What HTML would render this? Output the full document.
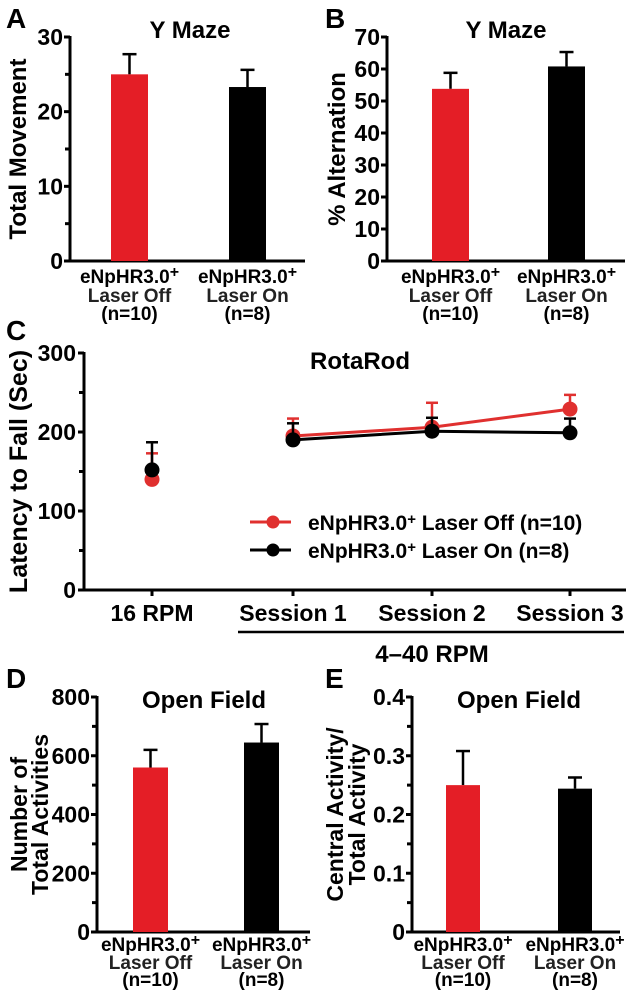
<!DOCTYPE html>
<html><head><meta charset="utf-8"><style>
html,body{margin:0;padding:0;background:#fff;width:633px;height:994px;overflow:hidden}
svg{display:block;font-family:"Liberation Sans",Arial,sans-serif;font-weight:bold}
</style></head><body>
<svg id="fig" width="633" height="994" viewBox="0 0 633 994"></svg>
<script>
// Panel A data
const aCats = ["Laser Off", "Laser On"];
const aNs = ["(n=10)", "(n=8)"];
const aVals = [25, 23.3];
const aErrs = [2.7, 2.3];
const aTicks = [0, 10, 20, 30];
// Panel B data
const bVals = [53.8, 60.8];
const bErrs = [5.0, 4.5];
const bTicks = [0, 10, 20, 30, 40, 50, 60, 70];
// Panel C data
const cCats = ["16 RPM", "Session 1", "Session 2", "Session 3"];
const cOffVals = [140, 195, 206, 229];
const cOffErrs = [33, 22, 31, 18];
const cOnVals = [152, 190, 201, 199];
const cOnErrs = [35, 21, 17, 18];
const cTicks = [0, 100, 200, 300];
// Panel D data
const dVals = [560, 645];
const dErrs = [60, 63];
const dTicks = [0, 200, 400, 600, 800];
// Panel E data
const eVals = [0.25, 0.244];
const eErrs = [0.058, 0.019];
const eTicks = [0, 0.1, 0.2, 0.3, 0.4];

const NS = "http://www.w3.org/2000/svg";
const svg = document.getElementById("fig");
function mk(tag, attrs, parent, text) {
  const e = document.createElementNS(NS, tag);
  for (const k in attrs) e.setAttribute(k, attrs[k]);
  if (text !== undefined) e.textContent = text;
  (parent || svg).appendChild(e);
  return e;
}
const RED = "#e41e26";

function barPanel(o) {
  const g = mk("g", {});
  
  
  const y = v => o.y0 - (v - o.min) / (o.max - o.min) * (o.y0 - o.y1);
  const L = mk("text", {x: o.letterX, y: o.letterY, "font-size": 28}, g, o.letter);
  
  
  const T = mk("text", {x: o.titleX, y: o.titleY, "font-size": 24, "text-anchor": "middle"}, g, o.title);
  
  
  const ya = mk("line", {x1: o.ax, x2: o.ax, y1: o.y1 - 1, y2: o.y0 + 1, stroke: "#000", "stroke-width": 3}, g);
  
  
  const xa = mk("line", {x1: o.ax - 1, x2: o.axEnd, y1: o.y0, y2: o.y0, stroke: "#000", "stroke-width": 3}, g);
  
  
  for (let i = 0; i < o.ticks.length; i++) {
    const v = o.ticks[i];
    mk("line", {x1: o.ax - 6, x2: o.ax, y1: y(v), y2: y(v), stroke: "#000", "stroke-width": 3}, g);
    const t = mk("text", {x: o.ax - 7, y: y(v) + 8, "font-size": 23, "text-anchor": "end"}, g, String(v));
    
    
    if (o.minor && i < o.ticks.length - 1) {
      const m = (o.ticks[i] + o.ticks[i + 1]) / 2;
      mk("line", {x1: o.ax - 5, x2: o.ax, y1: y(m), y2: y(m), stroke: "#000", "stroke-width": 3}, g);
    }
  }
  o.ytitle.forEach((s, i) => {
    const bx = o.ytitleX[i];
    const yt = mk("text", {x: 0, y: 0, "font-size": o.ytSize || 24, "text-anchor": "middle",
      transform: `translate(${bx},${(o.y0 + o.y1) / 2}) rotate(-90)`}, g, s);
    
    
  });
  o.vals.forEach((v, i) => {
    const bx = o.barX[i];
    const col = i === 0 ? RED : "#000";
    const top = y(v + o.errs[i]);
    mk("line", {x1: bx + o.bw / 2, x2: bx + o.bw / 2, y1: top, y2: y(v), stroke: "#000", "stroke-width": 2.5}, g);
    mk("line", {x1: bx + o.bw / 2 - 7, x2: bx + o.bw / 2 + 7, y1: top, y2: top, stroke: "#000", "stroke-width": 2.5}, g);
    const r = mk("rect", {x: bx, y: y(v), width: o.bw, height: o.y0 - y(v), fill: col}, g);
    
    
    const cx = bx + o.bw / 2;
    const t1 = mk("text", {x: cx, y: o.y0 + o.lb[0], "font-size": 19, "text-anchor": "middle"}, g);
    
    
    t1.appendChild(document.createTextNode("eNpHR3.0"));
    mk("tspan", {dy: -6, "font-size": 16}, t1, "+");
    mk("text", {x: cx, y: o.y0 + o.lb[1], "font-size": 19, "text-anchor": "middle", fill: "#222"}, g, aCats[i]);
    mk("text", {x: cx, y: o.y0 + o.lb[2], "font-size": 19, "text-anchor": "middle"}, g, aNs[i]);
  });
}

barPanel({name: "panel-a-ymaze-movement", letter: "A", letterX: 6, letterY: 28, title: "Y Maze", titleX: 190, titleY: 38,
  ax: 70, axEnd: 305, y0: 261, y1: 37, min: 0, max: 30, ticks: aTicks, minor: true,
  ytitle: ["Total Movement"], ytitleX: [26], vals: aVals, errs: aErrs, barX: [111, 229], bw: 37, lb: [22, 41, 59]});
barPanel({name: "panel-b-ymaze-alternation", letter: "B", letterX: 325, letterY: 28, title: "Y Maze", titleX: 506, titleY: 38,
  ax: 387, axEnd: 625, y0: 261, y1: 37, min: 0, max: 70, ticks: bTicks, minor: false,
  ytitle: ["% Alternation"], ytitleX: [345], vals: bVals, errs: bErrs, barX: [432, 548], bw: 37, lb: [22, 41, 59]});
barPanel({name: "panel-d-openfield-total", letter: "D", letterX: 6, letterY: 688, title: "Open Field", titleX: 204, titleY: 708,
  ax: 97, axEnd: 310, y0: 932, y1: 697, min: 0, max: 800, ticks: dTicks, minor: true, ytSize: 23,
  ytitle: ["Number of", "Total Activities"], ytitleX: [27, 48], vals: dVals, errs: dErrs, barX: [133, 244], bw: 35, lb: [19, 37, 54]});
barPanel({name: "panel-e-openfield-central", letter: "E", letterX: 325, letterY: 688, title: "Open Field", titleX: 519, titleY: 708,
  ax: 412, axEnd: 620, y0: 932, y1: 697, min: 0, max: 0.4, ticks: eTicks, minor: true, ytSize: 23,
  ytitle: ["Central Activity/", "Total Activity"], ytitleX: [343, 365], vals: eVals, errs: eErrs, barX: [446, 558], bw: 34, lb: [19, 37, 54]});

(function () {
  const g = mk("g", {});
  
  
  const ax = 84, axEnd = 626, y0 = 590, y1 = 353;
  const xs = [152, 293, 432, 570];
  const y = v => y0 - v / 300 * (y0 - y1);
  const L = mk("text", {x: 6, y: 340, "font-size": 28}, g, "C");
  
  
  const T = mk("text", {x: 360, y: 369, "font-size": 24, "text-anchor": "middle"}, g, "RotaRod");
  
  
  mk("line", {x1: ax, x2: ax, y1: y1 - 1, y2: y0 + 1, stroke: "#000", "stroke-width": 3}, g);
  mk("line", {x1: ax - 1, x2: axEnd, y1: y0, y2: y0, stroke: "#000", "stroke-width": 3}, g);
  cTicks.forEach((v, i) => {
    mk("line", {x1: ax - 6, x2: ax, y1: y(v), y2: y(v), stroke: "#000", "stroke-width": 3}, g);
    const t = mk("text", {x: ax - 8, y: y(v) + 8, "font-size": 23, "text-anchor": "end"}, g, String(v));
    
    
    if (i < cTicks.length - 1) {
      const m = (cTicks[i] + cTicks[i + 1]) / 2;
      mk("line", {x1: ax - 5, x2: ax, y1: y(m), y2: y(m), stroke: "#000", "stroke-width": 3}, g);
    }
  });
  const yt = mk("text", {x: 0, y: 0, "font-size": 25, "text-anchor": "middle",
    transform: `translate(27,${(y0 + y1) / 2}) rotate(-90)`}, g, "Latency to Fall (Sec)");
  
  
  cCats.forEach((c, i) => {
    mk("line", {x1: xs[i], x2: xs[i], y1: y0, y2: y0 + 6, stroke: "#000", "stroke-width": 3}, g);
    const t = mk("text", {x: xs[i], y: y0 + 31, "font-size": 23, "text-anchor": "middle"}, g, c);
    
    
  });
  mk("line", {x1: 238, x2: 624, y1: 632, y2: 632, stroke: "#000", "stroke-width": 2.5}, g);
  const st = mk("text", {x: 432, y: 662, "font-size": 24, "text-anchor": "middle"}, g, "4–40 RPM");
  
  
  function series(vals, errs, col, nm) {
    const sg = mk("g", {}, g);
    
    
    vals.forEach((v, i) => {
      mk("line", {x1: xs[i], x2: xs[i], y1: y(v + errs[i]), y2: y(v), stroke: col, "stroke-width": 2.5}, sg);
      mk("line", {x1: xs[i] - 6, x2: xs[i] + 6, y1: y(v + errs[i]), y2: y(v + errs[i]), stroke: col, "stroke-width": 2.5}, sg);
    });
    const pts = vals.slice(1).map((v, i) => `${xs[i + 1]},${y(v)}`).join(" ");
    mk("polyline", {points: pts, fill: "none", stroke: col, "stroke-width": 3}, sg);
    vals.forEach((v, i) => {
      const c = mk("circle", {cx: xs[i], cy: y(v), r: 7.5, fill: col}, sg);
      
      
    });
  }
  series(cOffVals, cOffErrs, "#e0302f", "series-laser-off");
  series(cOnVals, cOnErrs, "#000", "series-laser-on");
  [["#e0302f", "Laser Off (n=10)", 522], ["#000", "Laser On (n=8)", 550]].forEach(([col, lab, ly]) => {
    const lg = mk("g", {}, g);
    
    
    mk("line", {x1: 250, x2: 291, y1: ly, y2: ly, stroke: col, "stroke-width": 3}, lg);
    mk("circle", {cx: 273, cy: ly, r: 6.5, fill: col}, lg);
    const t = mk("text", {x: 308, y: ly + 8, "font-size": 21}, lg);
    t.appendChild(document.createTextNode("eNpHR3.0"));
    mk("tspan", {dy: -6, "font-size": 15}, t, "+");
    mk("tspan", {dy: 6}, t, " " + lab);
  });
})();
</script>
</body></html>
